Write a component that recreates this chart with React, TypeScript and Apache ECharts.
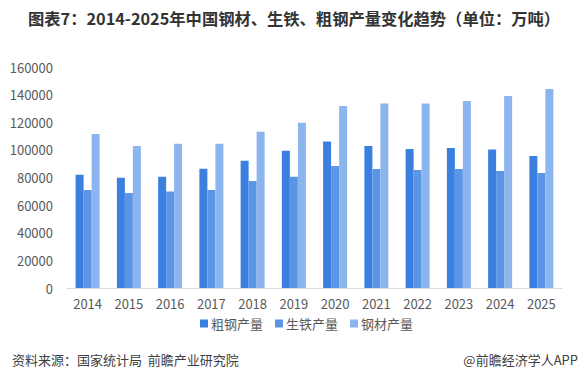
import React, { useEffect, useRef } from "react";
import * as echarts from "echarts";

const years = ["2014", "2015", "2016", "2017", "2018", "2019", "2020", "2021", "2022", "2023", "2024", "2025"];
const crudeSteel = [82000, 79900, 80600, 86400, 92200, 99400, 106000, 102800, 100600, 101400, 100200, 95600];
const pigIron = [71000, 68800, 69800, 71000, 77500, 80600, 88300, 86200, 85400, 86200, 84700, 83300];
const steelProducts = [111500, 102800, 104500, 104500, 113200, 119700, 131800, 133500, 133500, 135400, 139000, 144100];
const seriesNames = ["粗钢产量", "生铁产量", "钢材产量"];
const colors = ["#3b80e0", "#5b95e6", "#8cb5ee"];

const FONT = "'Noto Sans CJK SC', 'Noto Sans', sans-serif";

export default function App() {
  const ref = useRef<HTMLDivElement>(null);
  useEffect(() => {
    if (!ref.current) return;
    const chart = echarts.init(ref.current, undefined, { renderer: "svg" });
    const data = [crudeSteel, pigIron, steelProducts];
    chart.setOption({
      animation: false,
      backgroundColor: "#ffffff",
      textStyle: { fontFamily: FONT },
      title: [
        {
          text: "图表7：2014-2025年中国钢材、生铁、粗钢产量变化趋势（单位：万吨）",
          left: 23,
          top: 5,
          textStyle: { fontFamily: FONT, fontSize: 16.3, fontWeight: "bold", color: "#333333" },
        },
        {
          text: "资料来源：国家统计局  前瞻产业研究院",
          left: 7,
          top: 348,
          textStyle: { fontFamily: FONT, fontSize: 13, fontWeight: "normal", color: "#404040" },
        },
        {
          text: "@前瞻经济学人APP",
          right: 3,
          top: 348,
          textStyle: { fontFamily: FONT, fontSize: 13, fontWeight: "normal", color: "#404040" },
        },
      ],
      legend: {
        data: seriesNames,
        left: 200,
        top: 317,
        padding: 0,
        itemWidth: 8,
        itemHeight: 8,
        itemGap: 12,
        icon: "rect",
        textStyle: { fontFamily: FONT, fontSize: 13, color: "#595959", padding: [0, 0, 0, -2] },
      },
      grid: { left: 67, right: 24, top: 67, bottom: 92, containLabel: false },
      xAxis: {
        type: "category",
        data: years,
        axisLine: { show: true, lineStyle: { color: "#d9d9d9", width: 1 } },
        axisTick: { show: false },
        axisLabel: { color: "#595959", fontSize: 13, fontFamily: FONT, margin: 9 },
      },
      yAxis: {
        type: "value",
        min: 0,
        max: 160000,
        interval: 20000,
        axisLine: { show: false },
        axisTick: { show: false },
        splitLine: { show: false },
        axisLabel: {
          color: "#595959",
          fontSize: 13,
          fontFamily: FONT,
          margin: 14,
          formatter: (v: number) => String(v),
        },
      },
      series: seriesNames.map((name, i) => ({
        name,
        type: "bar",
        data: data[i],
        barWidth: 8,
        barGap: "0%",
        itemStyle: { color: colors[i] },
      })),
    });
    return () => chart.dispose();
  }, []);
  return <div ref={ref} style={{ width: 586, height: 380, position: "absolute", left: 0, top: 0 }} />;
}
